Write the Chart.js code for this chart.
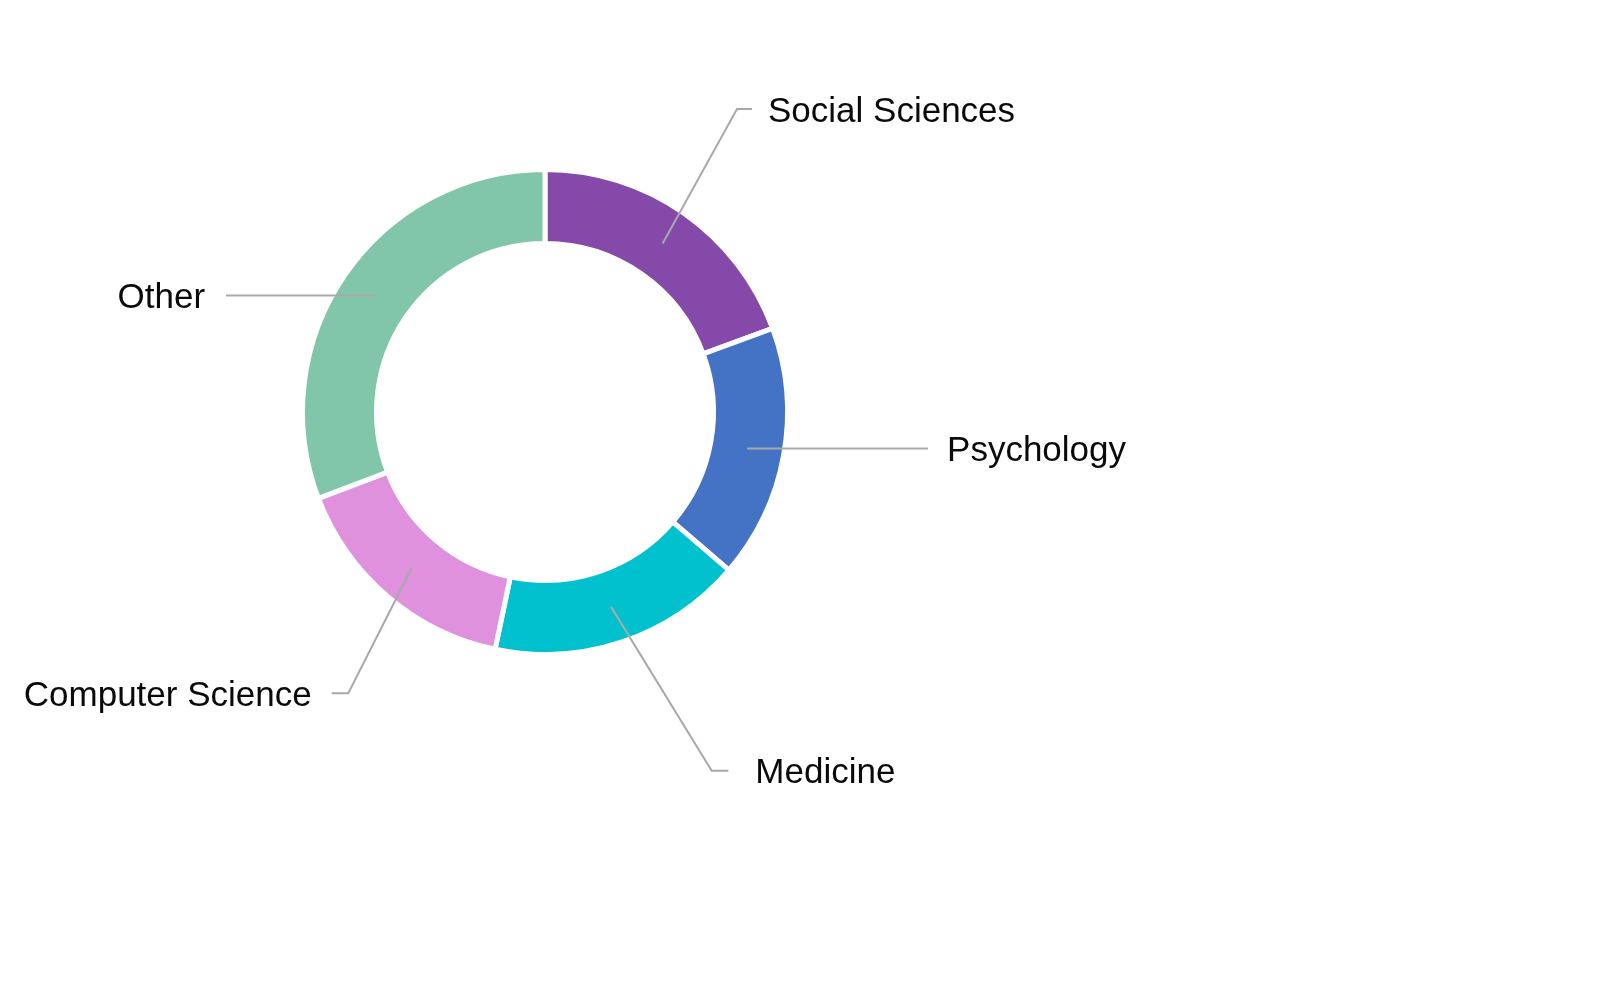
<!DOCTYPE html>
<html>
<head>
<meta charset="utf-8">
<script src="https://cdn.jsdelivr.net/npm/chart.js@4.4.1/dist/chart.umd.min.js"></script>
<style>
  html, body { margin: 0; padding: 0; background: #ffffff; }
  canvas { display: block; }
</style>
</head>
<body>
<canvas id="c" width="1600" height="1002"></canvas>
<script>
// ---- data ----
const categories = ['Social Sciences', 'Psychology', 'Medicine', 'Computer Science', 'Other'];
const shares = [19.4, 16.9, 17.0, 15.9, 30.8];
const sliceColors = ['#8549A9', '#4472C4', '#00C1CD', '#E091DE', '#82C6A9'];

// ---- label leader layout (relative to ring centre, in outer-radius units) ----
const labelLayout = [
  { elbow: [0.800, -1.2625], hook: 15, gap: 16 },
  { elbow: null, reachX: 1.596, gap: 19 },
  { elbow: [0.6946, 1.4946], hook: 16.6, gap: 27 },
  { elbow: [-0.8196, 1.172], hook: 16.6, gap: 20 },
  { elbow: null, reachX: -1.329, gap: 21 }
];

const leaderPlugin = {
  id: 'leaders',
  afterDatasetsDraw(chart) {
    const ctx = chart.ctx;
    const meta = chart.getDatasetMeta(0);
    ctx.save();
    ctx.font = '35px "Liberation Sans", Arial, sans-serif';
    ctx.fillStyle = '#0a0a0a';
    ctx.textBaseline = 'alphabetic';
    const capHalf = 35 * 0.716 / 2;
    meta.data.forEach((arc, i) => {
      const p = arc.getProps(['x', 'y', 'startAngle', 'endAngle', 'innerRadius', 'outerRadius'], true);
      const R = p.outerRadius - 2.5;
      const mid = (p.startAngle + p.endAngle) / 2;
      const rMid = (p.innerRadius + p.outerRadius) / 2;
      const ax = p.x + rMid * Math.cos(mid);
      const ay = p.y + rMid * Math.sin(mid);
      const L = labelLayout[i];
      let pts = [[ax, ay]];
      let endX, endY, dir;
      if (L.elbow) {
        const ex = p.x + L.elbow[0] * R;
        const ey = p.y + L.elbow[1] * R;
        dir = L.elbow[0] >= 0 ? 1 : -1;
        pts.push([ex, ey]);
        endX = ex + dir * L.hook;
        endY = ey;
      } else {
        dir = L.reachX >= 0 ? 1 : -1;
        endX = p.x + L.reachX * R;
        endY = ay;
      }
      pts.push([endX, endY]);
      ctx.strokeStyle = '#A9A9A9';
      ctx.lineWidth = 2;
      ctx.lineJoin = 'miter';
      ctx.beginPath();
      ctx.moveTo(pts[0][0], pts[0][1]);
      for (let k = 1; k < pts.length; k++) ctx.lineTo(pts[k][0], pts[k][1]);
      ctx.stroke();
      ctx.textAlign = dir > 0 ? 'left' : 'right';
      ctx.fillText(chart.data.labels[i], endX + dir * L.gap, endY + capHalf);
    });
    ctx.restore();
  }
};

new Chart(document.getElementById('c'), {
  type: 'doughnut',
  data: {
    labels: categories,
    datasets: [{
      data: shares,
      backgroundColor: sliceColors,
      borderColor: '#ffffff',
      borderWidth: 5,
      hoverOffset: 0
    }]
  },
  options: {
    responsive: false,
    devicePixelRatio: 1,
    animation: false,
    radius: 242.5,
    cutout: '69.48%',
    layout: { padding: { left: 0, top: 0, right: 510, bottom: 178 } },
    plugins: {
      legend: { display: false },
      tooltip: { enabled: false },
      title: { display: false }
    },
    events: []
  },
  plugins: [leaderPlugin]
});
</script>
</body>
</html>
